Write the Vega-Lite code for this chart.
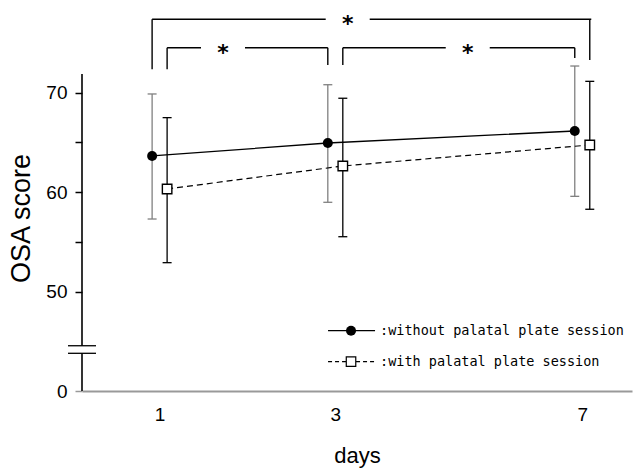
{
  "$schema": "https://vega.github.io/schema/vega-lite/v6.json",
  "width": 550,
  "height": 378,
  "autosize": {"type": "none"},
  "padding": {"left": 82, "top": 13, "right": 11, "bottom": 81},
  "background": "white",
  "config": {"view": {"stroke": null}, "font": "Liberation Sans", "axis": {"grid": false}},
  "datasets": {
    "scores": [
      {"day": 1, "group": "without", "mean": 63.63, "lo": 57.29, "hi": 69.86},
      {"day": 3, "group": "without", "mean": 64.93, "lo": 58.97, "hi": 70.79},
      {"day": 7, "group": "without", "mean": 66.14, "lo": 59.57, "hi": 72.67},
      {"day": 1, "group": "with", "mean": 60.31, "lo": 52.9, "hi": 67.48},
      {"day": 3, "group": "with", "mean": 62.62, "lo": 55.51, "hi": 69.43},
      {"day": 7, "group": "with", "mean": 64.73, "lo": 58.27, "hi": 71.13}
    ],
    "axisline": [
      {"day": 0.4, "y": 40, "y2": 43.79},
      {"day": 0.4, "y": 44.55, "y2": 71.87}
    ],
    "axisbreak": [
      {"day": 0.4, "y": 44.55},
      {"day": 0.4, "y": 43.79}
    ],
    "bracketH": [
      {"bracket": "top", "day": 1, "day2": 7, "y": 77.37},
      {"bracket": "lower", "day": 1, "day2": 3, "y": 74.51},
      {"bracket": "lower", "day": 3, "day2": 7, "y": 74.51}
    ],
    "bracketV": [
      {"side": "without", "day": 1, "y": 77.37, "y2": 72.34},
      {"side": "with", "day": 1, "y": 74.51, "y2": 72.34},
      {"side": "without", "day": 3, "y": 74.51, "y2": 72.77},
      {"side": "with", "day": 3, "y": 74.51, "y2": 72.77},
      {"side": "without", "day": 7, "y": 74.51, "y2": 73.48},
      {"side": "with", "day": 7, "y": 77.37, "y2": 73.28}
    ],
    "asterisks": [
      {"day": 3.17, "y": 77.37, "label": "*"},
      {"day": 1.628, "y": 74.51, "label": "*"},
      {"day": 4.99, "y": 74.51, "label": "*"}
    ],
    "legend": [
      {"group": "without", "day": 2.902, "day2": 3.557, "marker": 3.216, "labelDay": 3.629, "y": 46.06, "label": ":without palatal plate session"},
      {"group": "with", "day": 2.902, "day2": 3.557, "marker": 3.216, "labelDay": 3.629, "y": 42.95, "label": ":with palatal plate session"}
    ]
  },
  "layer": [
    {
      "data": {"name": "axisline"},
      "mark": {"type": "rule", "color": "black", "strokeWidth": 1.6},
      "encoding": {
        "x": {
          "field": "day", "type": "quantitative",
          "scale": {"type": "pow", "exponent": 0.625, "domain": [0.4, 7.95], "zero": false, "nice": false},
          "axis": {
            "title": "days", "values": [1, 3, 7], "format": "d", "ticks": false,
            "domainColor": "#999999", "domainWidth": 2,
            "labelFontSize": 19, "labelPadding": 14, "labelColor": "black",
            "titleFontSize": 22, "titleFontWeight": "normal", "titleColor": "black", "titlePadding": 21
          }
        },
        "y": {
          "field": "y", "type": "quantitative",
          "scale": {"domain": [40, 78], "zero": false, "nice": false},
          "axis": {
            "title": "OSA score", "values": [40, 50, 55, 60, 65, 70], "domain": false,
            "labelExpr": "datum.value == 40 ? '0' : ((datum.value == 55 || datum.value == 65) ? '' : datum.label)",
            "tickSize": 7, "tickWidth": 1.5,
            "tickColor": {"condition": {"test": "datum.value == 40", "value": "#999999"}, "value": "black"},
            "labelFontSize": 19, "labelPadding": 8, "labelColor": "black",
            "titleFontSize": 27, "titleFontWeight": "normal", "titleColor": "black",
            "titleX": -61, "titleY": 205, "titleAlign": "center", "titleBaseline": "middle"
          }
        },
        "y2": {"field": "y2"}
      }
    },
    {
      "data": {"name": "axisbreak"},
      "mark": {"type": "tick", "orient": "horizontal", "color": "black", "size": 28, "thickness": 1.3, "opacity": 1},
      "encoding": {
        "x": {"field": "day", "type": "quantitative"},
        "y": {"field": "y", "type": "quantitative"}
      }
    },
    {
      "data": {"name": "scores"},
      "transform": [{"filter": "datum.group == 'without'"}],
      "encoding": {"x": {"field": "day", "type": "quantitative"}},
      "layer": [
        {
          "mark": {"type": "rule", "color": "#808080", "strokeWidth": 1.3, "xOffset": -7.5},
          "encoding": {"y": {"field": "lo", "type": "quantitative"}, "y2": {"field": "hi"}}
        },
        {
          "mark": {"type": "tick", "orient": "horizontal", "color": "#808080", "size": 9, "thickness": 1.3, "opacity": 1, "xOffset": -7.5},
          "encoding": {"y": {"field": "lo", "type": "quantitative"}}
        },
        {
          "mark": {"type": "tick", "orient": "horizontal", "color": "#808080", "size": 9, "thickness": 1.3, "opacity": 1, "xOffset": -7.5},
          "encoding": {"y": {"field": "hi", "type": "quantitative"}}
        }
      ]
    },
    {
      "data": {"name": "scores"},
      "transform": [{"filter": "datum.group == 'with'"}],
      "encoding": {"x": {"field": "day", "type": "quantitative"}},
      "layer": [
        {
          "mark": {"type": "rule", "color": "black", "strokeWidth": 1.3, "xOffset": 7.5},
          "encoding": {"y": {"field": "lo", "type": "quantitative"}, "y2": {"field": "hi"}}
        },
        {
          "mark": {"type": "tick", "orient": "horizontal", "color": "black", "size": 9, "thickness": 1.3, "opacity": 1, "xOffset": 7.5},
          "encoding": {"y": {"field": "lo", "type": "quantitative"}}
        },
        {
          "mark": {"type": "tick", "orient": "horizontal", "color": "black", "size": 9, "thickness": 1.3, "opacity": 1, "xOffset": 7.5},
          "encoding": {"y": {"field": "hi", "type": "quantitative"}}
        }
      ]
    },
    {
      "data": {"name": "scores"},
      "transform": [{"filter": "datum.group == 'without'"}],
      "mark": {"type": "line", "color": "black", "strokeWidth": 1.3, "xOffset": -7.5},
      "encoding": {
        "x": {"field": "day", "type": "quantitative"},
        "y": {"field": "mean", "type": "quantitative"}
      }
    },
    {
      "data": {"name": "scores"},
      "transform": [{"filter": "datum.group == 'with'"}],
      "mark": {"type": "line", "color": "black", "strokeWidth": 1.2, "strokeDash": [6, 4], "xOffset": 7.5},
      "encoding": {
        "x": {"field": "day", "type": "quantitative"},
        "y": {"field": "mean", "type": "quantitative"}
      }
    },
    {
      "data": {"name": "scores"},
      "transform": [{"filter": "datum.group == 'without'"}],
      "mark": {"type": "point", "shape": "circle", "filled": true, "color": "black", "size": 100, "opacity": 1, "xOffset": -7.5},
      "encoding": {
        "x": {"field": "day", "type": "quantitative"},
        "y": {"field": "mean", "type": "quantitative"}
      }
    },
    {
      "data": {"name": "scores"},
      "transform": [{"filter": "datum.group == 'with'"}],
      "mark": {"type": "point", "shape": "square", "filled": true, "fill": "white", "stroke": "black", "strokeWidth": 1.4, "size": 90, "opacity": 1, "xOffset": 7.5},
      "encoding": {
        "x": {"field": "day", "type": "quantitative"},
        "y": {"field": "mean", "type": "quantitative"}
      }
    },
    {
      "data": {"name": "bracketH"},
      "transform": [{"filter": "datum.bracket == 'top'"}],
      "mark": {"type": "rule", "color": "black", "strokeWidth": 1.4, "xOffset": -7.5, "x2Offset": 9},
      "encoding": {
        "x": {"field": "day", "type": "quantitative"},
        "x2": {"field": "day2"},
        "y": {"field": "y", "type": "quantitative"}
      }
    },
    {
      "data": {"name": "bracketH"},
      "transform": [{"filter": "datum.bracket == 'lower'"}],
      "mark": {"type": "rule", "color": "black", "strokeWidth": 1.4, "xOffset": 7.5, "x2Offset": -7.5},
      "encoding": {
        "x": {"field": "day", "type": "quantitative"},
        "x2": {"field": "day2"},
        "y": {"field": "y", "type": "quantitative"}
      }
    },
    {
      "data": {"name": "bracketV"},
      "transform": [{"filter": "datum.side == 'without'"}],
      "mark": {"type": "rule", "color": "black", "strokeWidth": 1.4, "xOffset": -7.5},
      "encoding": {
        "x": {"field": "day", "type": "quantitative"},
        "y": {"field": "y", "type": "quantitative"},
        "y2": {"field": "y2"}
      }
    },
    {
      "data": {"name": "bracketV"},
      "transform": [{"filter": "datum.side == 'with'"}],
      "mark": {"type": "rule", "color": "black", "strokeWidth": 1.4, "xOffset": 7.5},
      "encoding": {
        "x": {"field": "day", "type": "quantitative"},
        "y": {"field": "y", "type": "quantitative"},
        "y2": {"field": "y2"}
      }
    },
    {
      "data": {"name": "asterisks"},
      "mark": {"type": "tick", "orient": "horizontal", "color": "white", "size": 44, "thickness": 5, "opacity": 1},
      "encoding": {
        "x": {"field": "day", "type": "quantitative"},
        "y": {"field": "y", "type": "quantitative"}
      }
    },
    {
      "data": {"name": "asterisks"},
      "mark": {"type": "text", "font": "DejaVu Sans", "fontSize": 22, "fontWeight": "bold", "color": "black", "align": "center", "baseline": "middle", "dy": 5},
      "encoding": {
        "x": {"field": "day", "type": "quantitative"},
        "y": {"field": "y", "type": "quantitative"},
        "text": {"field": "label"}
      }
    },
    {
      "data": {"name": "legend"},
      "transform": [{"filter": "datum.group == 'without'"}],
      "mark": {"type": "rule", "color": "black", "strokeWidth": 1.3},
      "encoding": {
        "x": {"field": "day", "type": "quantitative"},
        "x2": {"field": "day2"},
        "y": {"field": "y", "type": "quantitative"}
      }
    },
    {
      "data": {"name": "legend"},
      "transform": [{"filter": "datum.group == 'with'"}],
      "mark": {"type": "rule", "color": "black", "strokeWidth": 1.1, "strokeDash": [4, 3]},
      "encoding": {
        "x": {"field": "day", "type": "quantitative"},
        "x2": {"field": "day2"},
        "y": {"field": "y", "type": "quantitative"}
      }
    },
    {
      "data": {"name": "legend"},
      "transform": [{"filter": "datum.group == 'without'"}],
      "mark": {"type": "point", "shape": "circle", "filled": true, "color": "black", "size": 100, "opacity": 1},
      "encoding": {
        "x": {"field": "marker", "type": "quantitative"},
        "y": {"field": "y", "type": "quantitative"}
      }
    },
    {
      "data": {"name": "legend"},
      "transform": [{"filter": "datum.group == 'with'"}],
      "mark": {"type": "point", "shape": "square", "filled": true, "fill": "white", "stroke": "black", "strokeWidth": 1.2, "size": 90, "opacity": 1},
      "encoding": {
        "x": {"field": "marker", "type": "quantitative"},
        "y": {"field": "y", "type": "quantitative"}
      }
    },
    {
      "data": {"name": "legend"},
      "mark": {"type": "text", "font": "DejaVu Sans Mono", "fontSize": 13.5, "color": "black", "align": "left", "baseline": "middle"},
      "encoding": {
        "x": {"field": "labelDay", "type": "quantitative"},
        "y": {"field": "y", "type": "quantitative"},
        "text": {"field": "label"}
      }
    }
  ]
}
